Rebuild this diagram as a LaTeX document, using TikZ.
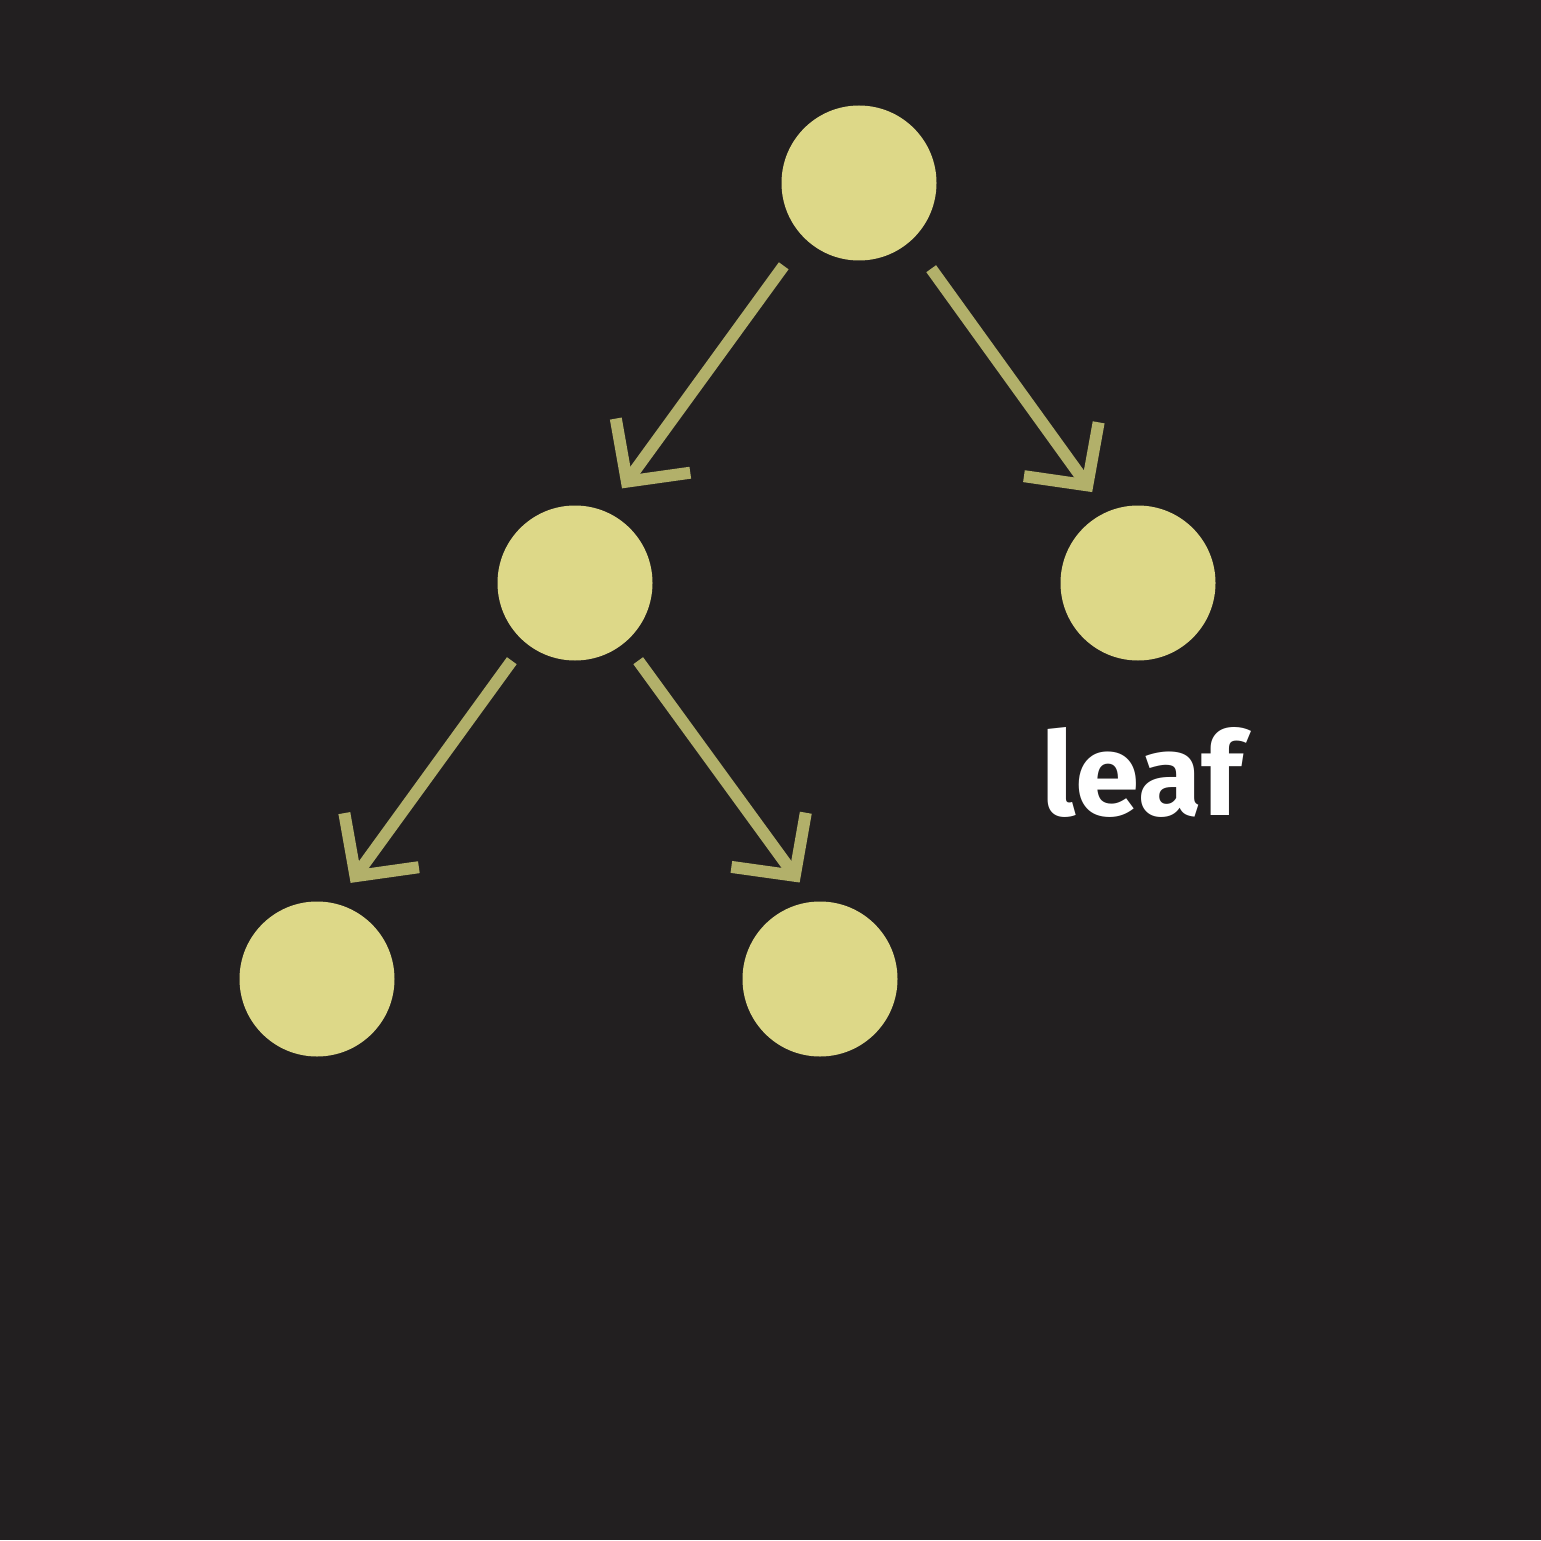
\documentclass[tikz,border=0pt]{standalone}
\usepackage{fontspec}
\setmainfont{Fira Sans}
\usepackage{xcolor}
\usetikzlibrary{arrows.meta}

\definecolor{bgdark}{HTML}{221F20}
\definecolor{nodefill}{HTML}{DDD888}
\definecolor{edgecol}{HTML}{B2B06A}

\begin{document}
\begin{tikzpicture}[scale = 1,
  vertex/.style = {circle, fill=nodefill, minimum size=1.55cm, inner sep=0pt},
  edge/.style = {line width=0.12cm, edgecol, -{Straight Barb[angle=92:0.64cm]}}]
\fill[bgdark] (0,0) rectangle (15.41,15.40);
\useasboundingbox (0,0) rectangle (15.41,15.40);
% tree
\node[vertex] (root) at (8.59,13.57) {};
\node[vertex] (left) at (5.75,9.57) {};
\node[vertex] (right) at (11.38,9.57) {};
\node[vertex] (leftleft) at (3.17,5.61) {};
\node[vertex] (leftright) at (8.20,5.61) {};
\draw[edge, shorten <=0.34cm, shorten >=0.28cm] (root.225) -- (left.67);
\draw[edge, shorten <=0.34cm, shorten >=0.24cm] (root.312) -- (right.114);
\draw[edge, shorten <=0.22cm, shorten >=0.25cm] (left.230) -- (leftleft.76);
\draw[edge, shorten <=0.22cm, shorten >=0.23cm] (left.310) -- (leftright.95);
\node[white, anchor=base, font=\bfseries\fontsize{33}{36}\selectfont] (leaflabel) at (11.42,7.25) {leaf};
\end{tikzpicture}
\end{document}
